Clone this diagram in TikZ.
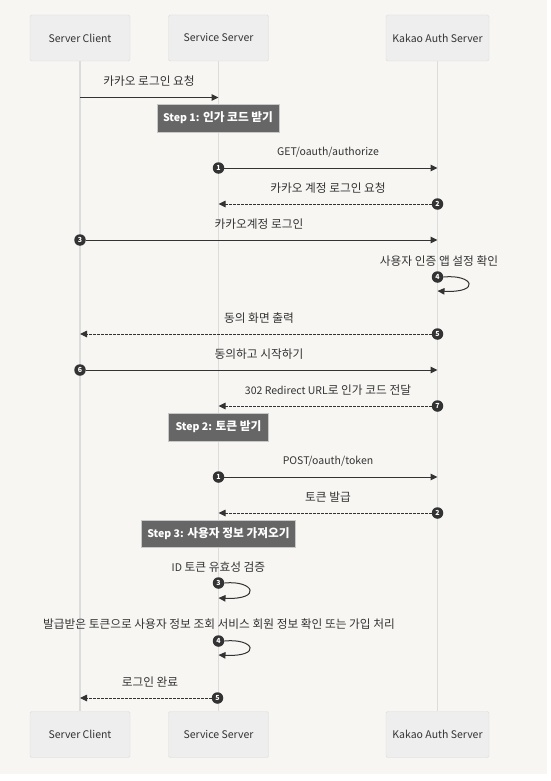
\documentclass[tikz,border=0pt]{standalone}
\usepackage{fontspec}
\setmainfont{Noto Sans CJK KR}
\usepackage{xcolor}
\usetikzlibrary{arrows.meta}
\definecolor{bgcol}{HTML}{F7F6F3}
\definecolor{actfill}{HTML}{EEEEEE}
\definecolor{actline}{HTML}{DCDCDC}
\definecolor{inkcol}{HTML}{333333}
\definecolor{notefill}{HTML}{666666}
\definecolor{noteline}{HTML}{C8C8C8}
\newcommand{\lat}[1]{{\fontsize{10.5}{12}\selectfont #1}}

\begin{document}
\begin{tikzpicture}[
    x=1pt, y=-1pt,
    every node/.style={font=\fontsize{11.7}{13}\selectfont, text=inkcol},
    actor/.style={rectangle, draw=actline, fill=actfill, rounded corners=1.5pt, minimum width=100pt, minimum height=46pt},
    life/.style={draw=actline, line width=1.5pt},
    note/.style={rectangle, draw=noteline, fill=notefill, minimum height=28pt, inner xsep=6pt, text=white, font=\fontsize{11.7}{13}\selectfont\bfseries},
    lbl/.style={inner sep=0pt},
    num/.style={circle, fill=inkcol, inner sep=0pt, minimum size=11.5pt, text=white, font=\fontsize{7}{7}\selectfont\bfseries},
    msg/.style={draw=inkcol, line width=1pt, -{Triangle[length=7pt,width=6.5pt]}},
    ret/.style={msg, line width=0.9pt, dash pattern=on 2.5pt off 1.5pt}
]
\useasboundingbox (0,0) rectangle (550,781);
\fill[bgcol] (0,0) rectangle (547,774);

% Actors (top and bottom)
\node[actor] (cTop) at (80,38) {\lat{Server Client}};
\node[actor] (sTop) at (218.5,38) {\lat{Service Server}};
\node[actor, minimum width=103pt] (kTop) at (437.5,38) {\lat{Kakao Auth Server}};
\node[actor] (cBot) at (80,734.5) {\lat{Server Client}};
\node[actor] (sBot) at (218.5,734.5) {\lat{Service Server}};
\node[actor, minimum width=103pt] (kBot) at (437.5,734.5) {\lat{Kakao Auth Server}};

% Lifelines
\draw[life] (cTop) -- (cBot);
\draw[life] (sTop) -- (sBot);
\draw[life] (kTop) -- (kBot);

% Kakao login request
\coordinate (c0) at (80,97.5);
\coordinate (s0) at (218.5,97.5);
\node[lbl] (l0) at (149,81) {카카오 로그인 요청};
\draw[msg] (c0) -- (s0);

% Step 1
\node[note, minimum width=122pt] (step1) at (218,118) {\lat{\bfseries Step 1:} 인가 코드 받기};

\node[lbl] (l1) at (328,152) {\lat{GET/oauth/authorize}};
\node[num] (n1) at (218.5,168) {1};
\coordinate (k1) at (437.5,168);
\draw[msg] (n1) -- (k1);

\node[lbl] (l2) at (328,188.5) {카카오 계정 로그인 요청};
\node[num] (n2) at (437.5,204) {2};
\coordinate (s2) at (218.5,204);
\draw[ret] (n2) -- (s2);

\node[lbl] (l3) at (259,224.5) {카카오계정 로그인};
\node[num] (n3) at (80,240) {3};
\coordinate (k3) at (437.5,240);
\draw[msg] (n3) -- (k3);

\node[lbl] (l4) at (439,261) {사용자 인증 앱 설정 확인};
\node[num] (n4) at (437.5,277) {4};
\coordinate (k4) at (437.5,291);
\draw[msg] (n4.east) .. controls +(30,-3) and +(44,2) .. (k4);

\node[lbl] (l5) at (259,318) {동의 화면 출력};
\node[num] (n5) at (437.5,334) {5};
\coordinate (c5) at (80,334);
\draw[ret] (n5) -- (c5);

\node[lbl] (l6) at (259,354) {동의하고 시작하기};
\node[num] (n6) at (80,370) {6};
\coordinate (k6) at (437.5,370);
\draw[msg] (n6) -- (k6);

\node[lbl] (l7) at (328,390) {\lat{302 Redirect URL}로 인가 코드 전달};
\node[num] (n7) at (437.5,406) {7};
\coordinate (s7) at (218.5,406);
\draw[ret] (n7) -- (s7);

% Step 2
\node[note, minimum width=100pt] (step2) at (218.5,427) {\lat{\bfseries Step 2:} 토큰 받기};

\node[lbl] (l8) at (328,461) {\lat{POST/oauth/token}};
\node[num] (n8) at (218.5,477) {1};
\coordinate (k8) at (437.5,477);
\draw[msg] (n8) -- (k8);

\node[lbl] (l9) at (328,497) {토큰 발급};
\node[num] (n9) at (437.5,513) {2};
\coordinate (s9) at (218.5,513);
\draw[ret] (n9) -- (s9);

% Step 3
\node[note, minimum width=153pt, minimum height=27pt] (step3) at (218.5,534) {\lat{\bfseries Step 3:} 사용자 정보 가져오기};

\node[lbl] (l10) at (218.5,567.5) {\lat{ID} 토큰 유효성 검증};
\node[num] (n10) at (218.5,583) {3};
\coordinate (s10) at (218.5,598);
\draw[msg] (n10.east) .. controls +(30,-3) and +(44,2) .. (s10);

\node[lbl] (l11) at (219,624) {발급받은 토큰으로 사용자 정보 조회 서비스 회원 정보 확인 또는 가입 처리};
\node[num] (n11) at (218.5,641) {4};
\coordinate (s11) at (218.5,655);
\draw[msg] (n11.east) .. controls +(30,-3) and +(44,2) .. (s11);

\node[lbl] (l12) at (150,682) {로그인 완료};
\node[num] (n12) at (217.5,698) {5};
\coordinate (c12) at (80,698);
\draw[ret] (n12) -- (c12);

\end{tikzpicture}
\end{document}
